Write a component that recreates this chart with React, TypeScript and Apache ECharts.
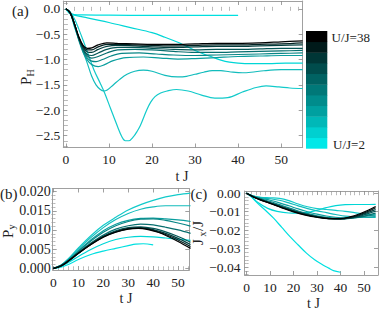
import React, { useEffect, useRef } from "react";
import * as echarts from "echarts";

// ---------- colours (U/J = 2 ... 38) ----------
const lineColors = ["#00e0e0", "#00d6d6", "#12caca", "#12bcbc", "#0a9e9e", "#088686", "#066e6e", "#055656", "#033e3e", "#022222", "#000000"];
const barColors = ["#00e8e8", "#00d0d0", "#00b8b8", "#00a0a0", "#008c8c", "#007878", "#006262", "#004c4c", "#003636", "#001a1a", "#000000"];
const barLabels = ["U/J=2", "U/J=38"];

// ---------- panel (a): P_H ----------
const A0 = [[0,0],[0.5,-0.05],[1,-0.09],[2,-0.115],[4,-0.12],[10,-0.125],[20,-0.13],[30,-0.13],[40,-0.13]];
const A1 = [[0,0],[0.5,-0.06],[1,-0.1],[5,-0.18],[10,-0.27],[15,-0.37],[20,-0.47],[23,-0.56],[26,-0.66],[28,-0.74],[30,-0.82],[32,-0.89],[34,-0.95],[36,-1.01],[38,-1.05],[40,-1.07],[43,-1.08],[47,-1.08],[51,-1.07],[55,-1.07]];
const A2 = [[0,0],[1,-0.06],[2,-0.2],[3,-0.4],[4,-0.62],[5,-0.85],[6.5,-1.2],[8,-1.47],[9,-1.66],[10.4,-1.97],[11.9,-2.3],[13,-2.52],[13.8,-2.6],[14.6,-2.6],[15.7,-2.52],[16.5,-2.42],[17.3,-2.3],[18.8,-1.99],[19.7,-1.84],[20.7,-1.73],[22,-1.66],[23.5,-1.62],[25.7,-1.59],[28.4,-1.62],[31.5,-1.7],[34.6,-1.76],[37.6,-1.75],[41,-1.64],[44.2,-1.55],[46.5,-1.52],[49.5,-1.54],[52,-1.56],[55,-1.57]];
const A3 = [[0,0],[1,-0.08],[2,-0.36],[3,-0.6],[4,-0.84],[5,-1.08],[6,-1.33],[7,-1.5],[8,-1.59],[8.8,-1.62],[9.6,-1.6],[11,-1.5],[12.5,-1.39],[14.2,-1.29],[16,-1.23],[18,-1.21],[20,-1.23],[23,-1.31],[26,-1.34],[28,-1.33],[30,-1.29],[32,-1.25],[34,-1.22],[36,-1.22],[38,-1.24],[41,-1.26],[43,-1.25],[46,-1.22],[50,-1.2],[55,-1.2]];
const A4 = [[0,0],[1,-0.08],[2,-0.33],[3,-0.62],[4,-0.86],[5,-1.01],[6,-1.1],[7.5,-1.14],[9,-1.1],[11,-1.02],[14,-0.96],[18,-0.95],[22,-0.97],[26,-0.99],[30,-0.98],[35,-0.96],[40,-0.94],[45,-0.93],[50,-0.92],[55,-0.92]];
const A5 = [[0,0],[1,-0.08],[2,-0.32],[3,-0.6],[4,-0.83],[5,-0.97],[6,-1.03],[7,-1.04],[8.5,-1.0],[10.5,-0.93],[13,-0.88],[17,-0.87],[21,-0.89],[25,-0.91],[30,-0.92],[35,-0.91],[40,-0.9],[45,-0.89],[50,-0.88],[55,-0.87]];
const A6 = [[0,0],[1,-0.08],[2,-0.31],[3,-0.59],[4,-0.81],[5,-0.93],[6,-0.97],[7.5,-0.94],[9.5,-0.87],[12,-0.81],[16,-0.8],[20,-0.81],[25,-0.84],[30,-0.86],[35,-0.86],[40,-0.85],[45,-0.84],[50,-0.83],[55,-0.82]];
const A7 = [[0,0],[1,-0.08],[2,-0.31],[3,-0.58],[4,-0.79],[5,-0.9],[6,-0.92],[7.5,-0.87],[9.5,-0.8],[12,-0.76],[16,-0.76],[20,-0.78],[25,-0.8],[30,-0.81],[35,-0.8],[40,-0.8],[45,-0.79],[50,-0.78],[55,-0.78]];
const A8 = [[0,0],[1,-0.08],[2,-0.3],[3,-0.57],[4,-0.76],[5,-0.85],[6,-0.86],[7.5,-0.8],[9.5,-0.74],[12,-0.72],[16,-0.73],[20,-0.75],[25,-0.76],[30,-0.75],[35,-0.74],[40,-0.74],[45,-0.73],[50,-0.72],[55,-0.71]];
const A9 = [[0,0],[1,-0.08],[2,-0.3],[3,-0.56],[4,-0.74],[5,-0.81],[6,-0.81],[7.5,-0.75],[9.5,-0.7],[12,-0.7],[16,-0.71],[20,-0.72],[25,-0.73],[30,-0.72],[35,-0.71],[40,-0.71],[45,-0.7],[50,-0.69],[55,-0.67]];
const A10 = [[0,0],[1,-0.08],[2,-0.3],[3,-0.55],[4,-0.72],[5,-0.78],[6,-0.77],[7.5,-0.71],[9.5,-0.67],[12,-0.68],[16,-0.69],[20,-0.7],[25,-0.7],[30,-0.69],[35,-0.68],[40,-0.68],[45,-0.67],[50,-0.65],[55,-0.63]];

// ---------- panel (b): P_y ----------
const B0 = [[0,0],[3,0.0003],[6,0.001],[10,0.0023],[15,0.0036],[20,0.0045],[25,0.0052],[30,0.0059],[33,0.0063],[36,0.0064],[40,0.0061]];
const B1 = [[0,0],[3,0.0005],[6,0.0015],[10,0.0031],[15,0.0049],[20,0.0064],[25,0.0075],[30,0.0081],[35,0.0083],[40,0.0082],[45,0.0079],[50,0.0076],[55,0.0073]];
const B2 = [[0,0],[3,0.0008],[6,0.0025],[10,0.0053],[15,0.0085],[20,0.0112],[25,0.0133],[30,0.0152],[35,0.0166],[40,0.0177],[45,0.0186],[50,0.0192],[55,0.0196]];
const B3 = [[0,0],[3,0.0008],[6,0.0024],[10,0.005],[15,0.008],[20,0.0106],[25,0.0127],[30,0.0143],[35,0.0154],[40,0.016],[45,0.0163],[50,0.0163],[55,0.0163]];
const B4 = [[0,0],[3,0.0007],[6,0.0022],[10,0.0046],[15,0.0074],[20,0.0098],[25,0.0115],[30,0.0125],[35,0.013],[40,0.0131],[45,0.0129],[50,0.0126],[55,0.0122]];
const B5 = [[0,0],[3,0.0007],[6,0.0021],[10,0.0044],[15,0.0071],[20,0.0094],[25,0.0111],[30,0.0122],[35,0.0128],[40,0.0129],[45,0.0125],[50,0.0118],[55,0.011]];
const B6 = [[0,0],[3,0.0007],[6,0.002],[10,0.0041],[15,0.0066],[20,0.0087],[25,0.0102],[30,0.0111],[35,0.0115],[40,0.0113],[45,0.0107],[50,0.01],[55,0.0091]];
const B7 = [[0,0],[3,0.0007],[6,0.002],[10,0.004],[15,0.0064],[20,0.0084],[25,0.0098],[30,0.0106],[35,0.0108],[40,0.0104],[45,0.0095],[50,0.0083],[55,0.0068]];
const B8 = [[0,0],[3,0.0006],[6,0.0019],[10,0.0039],[15,0.0063],[20,0.0083],[25,0.0096],[30,0.0104],[35,0.0106],[40,0.0101],[45,0.0091],[50,0.0078],[55,0.0062]];
const B9 = [[0,0],[3,0.0006],[6,0.0019],[10,0.0039],[15,0.0062],[20,0.0082],[25,0.0095],[30,0.0103],[35,0.0105],[40,0.0099],[45,0.0088],[50,0.0074],[55,0.0057]];
const B10 = [[0,0],[3,0.0006],[6,0.0019],[10,0.0039],[15,0.0062],[20,0.0081],[25,0.0094],[30,0.0102],[34,0.0104],[38,0.0101],[42,0.0094],[46,0.0083],[50,0.007],[55,0.0052]];

// ---------- panel (c): J_x/J ----------
const C0 = [[0,0],[2,-0.002],[4.5,-0.0052],[8,-0.0092],[11.5,-0.0135],[15,-0.0185],[18.5,-0.0235],[22,-0.028],[25.5,-0.0324],[29,-0.036],[32.5,-0.0388],[35,-0.0405],[37,-0.0418],[40,-0.0427]];
const C1 = [[0,0],[2,-0.0018],[5,-0.0052],[9,-0.0082],[13,-0.0098],[18,-0.0107],[22,-0.0108],[26,-0.0104],[30,-0.0092],[34,-0.0078],[38,-0.0067],[42,-0.0062],[46,-0.0061],[50,-0.0061],[55,-0.006]];
const C2 = [[0,0],[3,-0.0015],[6,-0.0022],[10,-0.0025],[14,-0.0028],[18,-0.004],[22,-0.0058],[26,-0.0073],[30,-0.0083],[34,-0.0088],[38,-0.0093],[42,-0.0098],[46,-0.0105],[50,-0.0112],[55,-0.0118]];
const C3 = [[0,0],[3,-0.0016],[6,-0.0024],[10,-0.003],[14,-0.0038],[18,-0.0052],[22,-0.0068],[26,-0.0083],[30,-0.0095],[34,-0.0105],[38,-0.0115],[42,-0.0124],[46,-0.0128],[50,-0.013],[55,-0.0131]];
const C4 = [[0,0],[3,-0.0017],[6,-0.0027],[10,-0.0038],[14,-0.0052],[18,-0.0068],[22,-0.0085],[26,-0.01],[30,-0.0113],[34,-0.0123],[38,-0.013],[42,-0.0133],[46,-0.0132],[50,-0.013],[55,-0.0126]];
const C5 = [[0,0],[3,-0.0018],[6,-0.003],[10,-0.0045],[14,-0.0062],[18,-0.0079],[22,-0.0096],[26,-0.011],[30,-0.0122],[34,-0.013],[38,-0.0135],[42,-0.0135],[46,-0.0131],[50,-0.0125],[55,-0.0117]];
const C6 = [[0,0],[3,-0.0019],[6,-0.0033],[10,-0.005],[15,-0.0072],[20,-0.0094],[25,-0.0112],[30,-0.0126],[35,-0.0135],[40,-0.0139],[44,-0.0136],[48,-0.0129],[52,-0.0118],[55,-0.0108]];
const C7 = [[0,0],[3,-0.002],[6,-0.0034],[10,-0.0052],[15,-0.0074],[20,-0.0095],[25,-0.0113],[30,-0.0127],[35,-0.0136],[40,-0.0139],[44,-0.0135],[48,-0.0125],[52,-0.0109],[55,-0.0097]];
const C8 = [[0,0],[3,-0.002],[6,-0.0035],[10,-0.0053],[15,-0.0075],[20,-0.0096],[25,-0.0114],[30,-0.0128],[35,-0.0137],[40,-0.0139],[44,-0.0133],[48,-0.0121],[52,-0.0103],[55,-0.0088]];
const C9 = [[0,0],[3,-0.002],[6,-0.0036],[10,-0.0054],[15,-0.0077],[20,-0.0098],[25,-0.0116],[30,-0.0129],[35,-0.0137],[40,-0.0138],[44,-0.0131],[48,-0.0117],[52,-0.0097],[55,-0.0079]];
const C10 = [[0,0],[3,-0.0021],[6,-0.0037],[10,-0.0055],[15,-0.0079],[20,-0.0101],[25,-0.0118],[30,-0.013],[35,-0.0137],[40,-0.0137],[44,-0.0128],[48,-0.0112],[52,-0.0091],[55,-0.0072]];

const seriesA = [A0, A1, A2, A3, A4, A5, A6, A7, A8, A9, A10];
const seriesB = [B0, B1, B2, B3, B4, B5, B6, B7, B8, B9, B10];
const seriesC = [C0, C1, C2, C3, C4, C5, C6, C7, C8, C9, C10];

// ---------- ticks ----------
const tMajor = [0, 10, 20, 30, 40, 50];
const tMinor = [2, 4, 6, 8, 12, 14, 16, 18, 22, 24, 26, 28, 32, 34, 36, 38, 42, 44, 46, 48, 52, 54];
const aMajor = [0, -0.5, -1, -1.5, -2, -2.5];
const aMinor = [0.1, -0.1, -0.2, -0.3, -0.4, -0.6, -0.7, -0.8, -0.9, -1.1, -1.2, -1.3, -1.4, -1.6, -1.7, -1.8, -1.9, -2.1, -2.2, -2.3, -2.4, -2.6, -2.7];
const bMajor = [0, 0.005, 0.01, 0.015, 0.02];
const bMinor = [0.001, 0.002, 0.003, 0.004, 0.006, 0.007, 0.008, 0.009, 0.011, 0.012, 0.013, 0.014, 0.016, 0.017, 0.018, 0.019];
const cMajor = [0, -0.01, -0.02, -0.03, -0.04];
const cMinor = [-0.002, -0.004, -0.006, -0.008, -0.012, -0.014, -0.016, -0.018, -0.022, -0.024, -0.026, -0.028, -0.032, -0.034, -0.036, -0.038, -0.042, -0.044];

const FONT = "Liberation Serif";
const FRAME = "#a0a0a0";
const TEXT = "#222";

function fmtSigned(d: number) {
  return (v: number) => (Math.abs(v) < 1e-12 ? (0).toFixed(d) : (v < 0 ? "\u2212" : "") + Math.abs(v).toFixed(d));
}

function makeAxes(g: number, dim: "x" | "y", min: number, max: number, major: number[], minor: number[], fmt: (v: number) => string, fontSize: number, margin: number) {
  const pos = dim === "x" ? ["bottom", "top"] : ["left", "right"];
  const base = { gridIndex: g, type: "value", min, max, splitLine: { show: false }, scale: true };
  const out: any[] = [];
  pos.forEach((p, i) => {
    out.push({
      ...base,
      position: p,
      axisLine: { show: true, onZero: false, lineStyle: { color: FRAME, width: 1 } },
      axisTick: { show: true, inside: true, length: 4, customValues: major, lineStyle: { color: "#888", width: 0.8 } },
      axisLabel: i === 0
        ? { show: true, customValues: major, formatter: fmt, fontFamily: FONT, fontSize, color: TEXT, margin }
        : { show: false },
    });
    out.push({
      ...base,
      position: p,
      axisLine: { show: false },
      axisTick: { show: true, inside: true, length: 2, customValues: minor, lineStyle: { color: "#999", width: 0.7 } },
      axisLabel: { show: false },
    });
  });
  return out;
}

export default function App() {
  const ref = useRef<HTMLDivElement>(null);
  useEffect(() => {
    document.body.style.margin = "0";
    const chart = echarts.init(ref.current!, undefined, { renderer: "svg" });
    const grids = [
      { left: 63.3, top: 1, width: 239.4, height: 146.5 },
      { left: 52.7, top: 188.5, width: 136.6, height: 81.5 },
      { left: 244.5, top: 191, width: 133.5, height: 84 },
    ];
    const fmtX = (v: number) => String(Math.round(v));
    const xAxis = [
      ...makeAxes(0, "x", -0.6, 55, tMajor, tMinor, fmtX, 13.5, 5),
      ...makeAxes(1, "x", -0.3, 54.5, tMajor, tMinor, fmtX, 13.5, 5),
      ...makeAxes(2, "x", -0.9, 56, tMajor, tMinor, fmtX, 13.5, 5),
    ];
    const yAxis = [
      ...makeAxes(0, "y", -2.733, 0.154, aMajor, aMinor, fmtSigned(1), 13.5, 3),
      ...makeAxes(1, "y", -0.00044, 0.0208, bMajor, bMinor, fmtSigned(3), 14, 2),
      ...makeAxes(2, "y", -0.0442, 0.0012, cMajor, cMinor, fmtSigned(2), 13.5, 4),
    ];
    const series: any[] = [];
    [seriesA, seriesB, seriesC].forEach((set, p) => {
      set.forEach((d, k) => {
        series.push({
          type: "line",
          xAxisIndex: p * 4,
          yAxisIndex: p * 4,
          data: d,
          showSymbol: false,
          smooth: 0.35,
          z: 2 + k,
          lineStyle: { color: lineColors[k], width: 1.2 },
          silent: true,
        });
      });
    });

    const graphic: any[] = [];
    const cbTop = 31, cbBottom = 148.3, cbLeft = 306, cbWidth = 21.3;
    const bandH = (cbBottom - cbTop) / barColors.length;
    barColors.forEach((c, k) => {
      graphic.push({
        type: "rect",
        shape: { x: cbLeft, y: cbBottom - (k + 1) * bandH, width: cbWidth, height: bandH + 0.4 },
        style: { fill: c },
        silent: true,
      });
    });
    const txt = (x: number, y: number, text: string, size: number, align = "left") => ({
      type: "text",
      x, y,
      style: { text, fontFamily: FONT, fontSize: size, fill: TEXT, align, verticalAlign: "middle" },
      silent: true,
    });
    graphic.push(txt(331.5, 37.5, barLabels[1], 13));
    graphic.push(txt(333, 144, barLabels[0], 13));
    graphic.push(txt(12, 11, "(a)", 15));
    graphic.push(txt(0, 194, "(b)", 15));
    graphic.push(txt(190.5, 194, "(c)", 15));
    graphic.push(txt(182, 176, "t J", 14, "center"));
    graphic.push(txt(126, 298, "t J", 14, "center"));
    graphic.push(txt(313.5, 303.5, "t J", 14, "center"));
    const vlabel = (x: number, y: number, main: string, sub: string, rest: string) => ({
      type: "group",
      x, y,
      rotation: Math.PI / 2,
      silent: true,
      children: [
        { type: "text", x: 0, y: 0, style: { text: main, fontFamily: FONT, fontSize: 15, fill: TEXT, align: "left", verticalAlign: "middle" } },
        { type: "text", x: 8.5, y: 4, style: { text: sub, fontFamily: FONT, fontSize: 10, fill: TEXT, align: "left", verticalAlign: "middle" } },
        { type: "text", x: 14, y: 0, style: { text: rest, fontFamily: FONT, fontSize: 15, fill: TEXT, align: "left", verticalAlign: "middle" } },
      ],
    });
    graphic.push(vlabel(26, 85, "P", "H", ""));
    graphic.push(vlabel(7.5, 238, "P", "y", ""));
    graphic.push(vlabel(198, 245, "J", "x", "/J"));

    chart.setOption({
      animation: false,
      backgroundColor: "#ffffff",
      grid: grids,
      xAxis,
      yAxis,
      series,
      graphic,
    });
    return () => chart.dispose();
  }, []);
  return <div ref={ref} style={{ width: 380, height: 312 }} />;
}
